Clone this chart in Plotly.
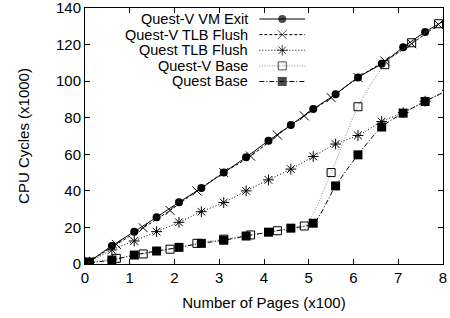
import plotly.graph_objects as go

# ---- data (x in hundreds of pages, y in thousands of cycles) ----
x_half = [0.1, 0.6, 1.1, 1.6, 2.1, 2.6, 3.1, 3.6, 4.1, 4.6, 5.1, 5.6, 6.1, 6.63, 7.11, 7.6, 8.1]
x_six = [0.1, 0.7, 1.3, 1.9, 2.5, 3.1, 3.7, 4.3, 4.9, 5.5, 6.1, 6.7, 7.3, 7.9]

vm_exit = [1.3, 9.9, 17.7, 25.6, 33.8, 41.5, 50.0, 58.4, 67.4, 76.0, 84.7, 92.9, 102.0, 109.5, 118.5, 126.9, 134.0]
questv_tlb = [1.5, 10.7, 19.8, 29.3, 40.0, 50.0, 59.0, 70.5, 81.0, 91.0, 102.0, 111.0, 120.5, 131.0]
quest_tlb = [1.0, 7.7, 12.6, 17.7, 22.8, 28.6, 33.6, 40.0, 46.0, 51.9, 58.8, 65.6, 70.3, 77.9, 82.8, 89.0, 95.0]
questv_base = [1.0, 3.1, 5.5, 8.1, 11.3, 13.6, 15.9, 18.2, 20.8, 50.0, 86.0, 109.0, 121.0, 131.4]
quest_base = [0.7, 2.2, 4.9, 7.1, 9.1, 11.3, 13.0, 15.3, 17.4, 19.6, 22.3, 42.7, 59.7, 74.9, 82.5, 88.9, 95.0]

names = ["Quest-V VM Exit", "Quest-V TLB Flush", "Quest TLB Flush", "Quest-V Base", "Quest Base"]
x_ticks = [0, 1, 2, 3, 4, 5, 6, 7, 8]
y_ticks = [0, 20, 40, 60, 80, 100, 120, 140]

FONT = "Liberation Sans, Arial, sans-serif"

styles = [
    dict(color="black", dash="solid", symbol="circle", msize=8, mline=0, mcolor="black"),
    dict(color="black", dash="3px,2px", symbol="x-thin-open", msize=9, mline=1, mcolor="black"),
    dict(color="black", dash="1px,2px", symbol="asterisk-open", msize=9, mline=1, mcolor="black"),
    dict(color="#8a8a8a", dash="1px,1.5px", symbol="square-open", msize=8, mline=1, mcolor="black"),
    dict(color="black", dash="5px,2px,1px,2px", symbol="square", msize=9, mline=0, mcolor="black"),
]
series = [(x_half, vm_exit), (x_six, questv_tlb), (x_half, quest_tlb), (x_six, questv_base), (x_half, quest_base)]

fig = go.Figure()
for (xs, ys), st, nm in zip(series, styles, names):
    fig.add_trace(go.Scatter(
        x=xs, y=ys, name=nm, mode="lines+markers",
        line=dict(color=st["color"], width=1, dash=st["dash"], shape="spline", smoothing=0.8),
        marker=dict(symbol=st["symbol"], size=st["msize"], color=st["mcolor"],
                    line=dict(color=st["mcolor"], width=st["mline"])),
        showlegend=False, cliponaxis=True,
    ))

# ---- custom legend (text left of sample), on an overlay axis in [0,1] ----
leg_y = [0.957, 0.896, 0.835, 0.774, 0.713]
lx0, lxm, lx1, ltext = 0.487, 0.551, 0.615, 0.4616
for st, nm, yy in zip(styles, names, leg_y):
    fig.add_trace(go.Scatter(
        x=[lx0, lxm, lx1], y=[yy, yy, yy], mode="lines+markers",
        xaxis="x2", yaxis="y2", showlegend=False, hoverinfo="skip",
        line=dict(color=st["color"], width=1, dash=st["dash"]),
        marker=dict(symbol=st["symbol"], size=[0, st["msize"], 0], color=st["mcolor"],
                    line=dict(color=st["mcolor"], width=st["mline"])),
    ))
    fig.add_annotation(x=ltext, y=yy, xref="paper", yref="paper", text=nm,
                       showarrow=False, xanchor="right", yanchor="middle",
                       font=dict(family=FONT, size=14.5, color="black"))

axis_common = dict(showline=True, linecolor="black", linewidth=1, mirror="ticks",
                   ticks="inside", ticklen=5, tickcolor="black", showgrid=False, zeroline=False,
                   ticklabeloverflow="allow",
                   tickfont=dict(family=FONT, size=15, color="black"))

fig.update_layout(
    width=450, height=318,
    margin=dict(l=85, r=7, t=8, b=54, autoexpand=False),
    paper_bgcolor="white", plot_bgcolor="white",
    font=dict(family=FONT, size=15, color="black"),
    xaxis=dict(range=[0, 8], tickvals=x_ticks, ticktext=[str(v) for v in x_ticks],
               title=dict(text="Number of Pages (x100)", font=dict(family=FONT, size=15), standoff=12),
               **axis_common),
    yaxis=dict(range=[0, 140], tickvals=y_ticks, ticktext=[str(v) for v in y_ticks],
               title=dict(text="CPU Cycles (x1000)", font=dict(family=FONT, size=15), standoff=22),
               **axis_common),
    xaxis2=dict(overlaying="x", range=[0, 1], visible=False, fixedrange=True),
    yaxis2=dict(overlaying="y", range=[0, 1], visible=False, fixedrange=True),
)

fig.write_html("out.html", config={"displayModeBar": False},
               post_script="document.body.style.margin='0px';")
